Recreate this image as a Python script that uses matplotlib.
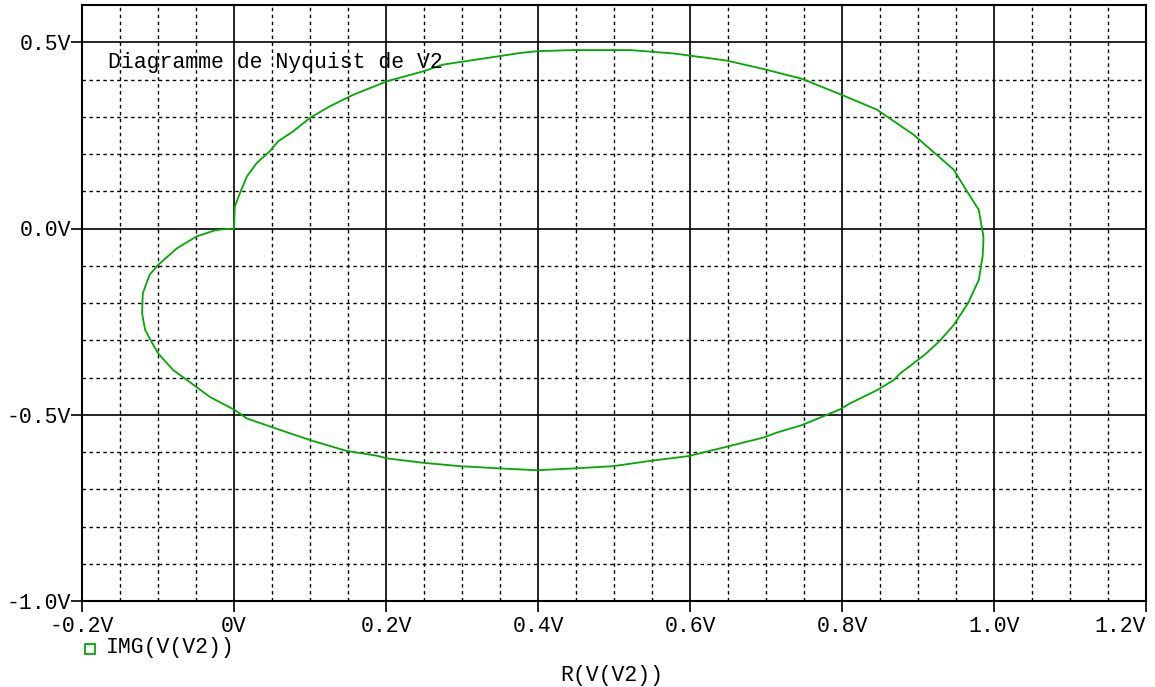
import matplotlib
matplotlib.use('Agg')
import matplotlib.pyplot as plt
import numpy as np

re_v2 = [0.0, 0.001, 0.008, 0.017, 0.030, 0.047, 0.058, 0.078, 0.100, 0.126,
         0.157, 0.201, 0.249, 0.275, 0.324, 0.376, 0.399, 0.447, 0.521, 0.578,
         0.648, 0.697, 0.747, 0.797, 0.846, 0.894, 0.947, 0.964, 0.980, 0.986,
         0.986, 0.985, 0.980, 0.966, 0.947, 0.929, 0.911, 0.894, 0.876, 0.868,
         0.846, 0.811, 0.797, 0.747, 0.714, 0.697, 0.648, 0.598, 0.547, 0.499,
         0.449, 0.398, 0.350, 0.297, 0.249, 0.201, 0.188, 0.148, 0.100, 0.061,
         0.017, 0.000, -0.032, -0.049, -0.080, -0.100, -0.111, -0.117, -0.121, -0.120,
         -0.111, -0.100, -0.075, -0.049, -0.025, -0.014, 0.0]
img_v2 = [0.0, 0.059, 0.096, 0.140, 0.176, 0.207, 0.234, 0.261, 0.297, 0.328,
          0.359, 0.395, 0.422, 0.440, 0.455, 0.471, 0.476, 0.479, 0.479, 0.470,
          0.451, 0.428, 0.402, 0.361, 0.319, 0.252, 0.158, 0.101, 0.050, -0.020,
          -0.039, -0.075, -0.138, -0.200, -0.259, -0.301, -0.335, -0.362, -0.390, -0.407,
          -0.434, -0.469, -0.486, -0.528, -0.548, -0.561, -0.586, -0.611, -0.624, -0.638,
          -0.644, -0.649, -0.644, -0.638, -0.629, -0.617, -0.610, -0.597, -0.568, -0.541,
          -0.510, -0.486, -0.452, -0.426, -0.380, -0.335, -0.295, -0.272, -0.227, -0.174,
          -0.124, -0.098, -0.053, -0.021, -0.005, -0.002, 0.0]

x_ticks = [-0.2, 0.0, 0.2, 0.4, 0.6, 0.8, 1.0, 1.2]
x_labels = ['-0.2V', '0V', '0.2V', '0.4V', '0.6V', '0.8V', '1.0V', '1.2V']
y_ticks = [-1.0, -0.5, 0.0, 0.5]
y_labels = ['-1.0V', '-0.5V', '0.0V', '0.5V']

plt.rcParams['font.family'] = ['Liberation Mono', 'DejaVu Sans Mono']

fig = plt.figure(figsize=(11.55, 6.87), dpi=100)
ax = fig.add_axes([82/1155, 1-601/687, (1146-82)/1155, (601-5)/687])

# minor dotted grid
for xv in np.arange(-0.15, 1.2, 0.05):
    if abs(round(xv / 0.2) * 0.2 - xv) > 1e-6:
        ax.axvline(xv, color='black', lw=1.0, ls=(0, (2.5, 2.5)), zorder=1)
for yv in np.arange(-0.9, 0.5, 0.1):
    if abs(round(yv / 0.5) * 0.5 - yv) > 1e-6:
        ax.axhline(yv, color='black', lw=1.0, ls=(0, (2.5, 2.5)), zorder=1)
# major solid grid
for xv in [0.0, 0.2, 0.4, 0.6, 0.8, 1.0]:
    ax.axvline(xv, color='black', lw=1.2, zorder=1)
for yv in [-0.5, 0.0, 0.5]:
    ax.axhline(yv, color='black', lw=1.2, zorder=1)

ax.plot(re_v2, img_v2, color='#00aa00', lw=1.3, zorder=3)

ax.set_xlim(-0.2, 1.2)
ax.set_ylim(-1.0, 0.6)
ax.set_xticks(x_ticks)
ax.set_xticklabels(x_labels)
ax.set_yticks(y_ticks)
ax.set_yticklabels(y_labels)
ax.tick_params(direction='out', length=8, width=1.2, labelsize=15.5, colors='black')
ax.tick_params(axis='y', pad=0)
ax.tick_params(axis='x', pad=3)
ax.get_xticklabels()[-1].set_horizontalalignment('right')
for s in ax.spines.values():
    s.set_linewidth(1.5)

ax.text(0.024, 0.903, 'Diagramme de Nyquist de V2', transform=ax.transAxes,
        fontsize=15.5, va='center', ha='left')

fig.text(612/1155, 1-675/687, 'R(V(V2))', fontsize=15.5, ha='center', va='center')
fig.text(106/1155, 1-648/687, 'IMG(V(V2))', fontsize=15.5, ha='left', va='center')
fig.add_artist(plt.Line2D([90/1155], [1-649/687], marker='s', markersize=7,
                          markerfacecolor='none', markeredgecolor='#00aa00',
                          markeredgewidth=1.3, transform=fig.transFigure))

fig.savefig('out.png', dpi=100, facecolor='white')
